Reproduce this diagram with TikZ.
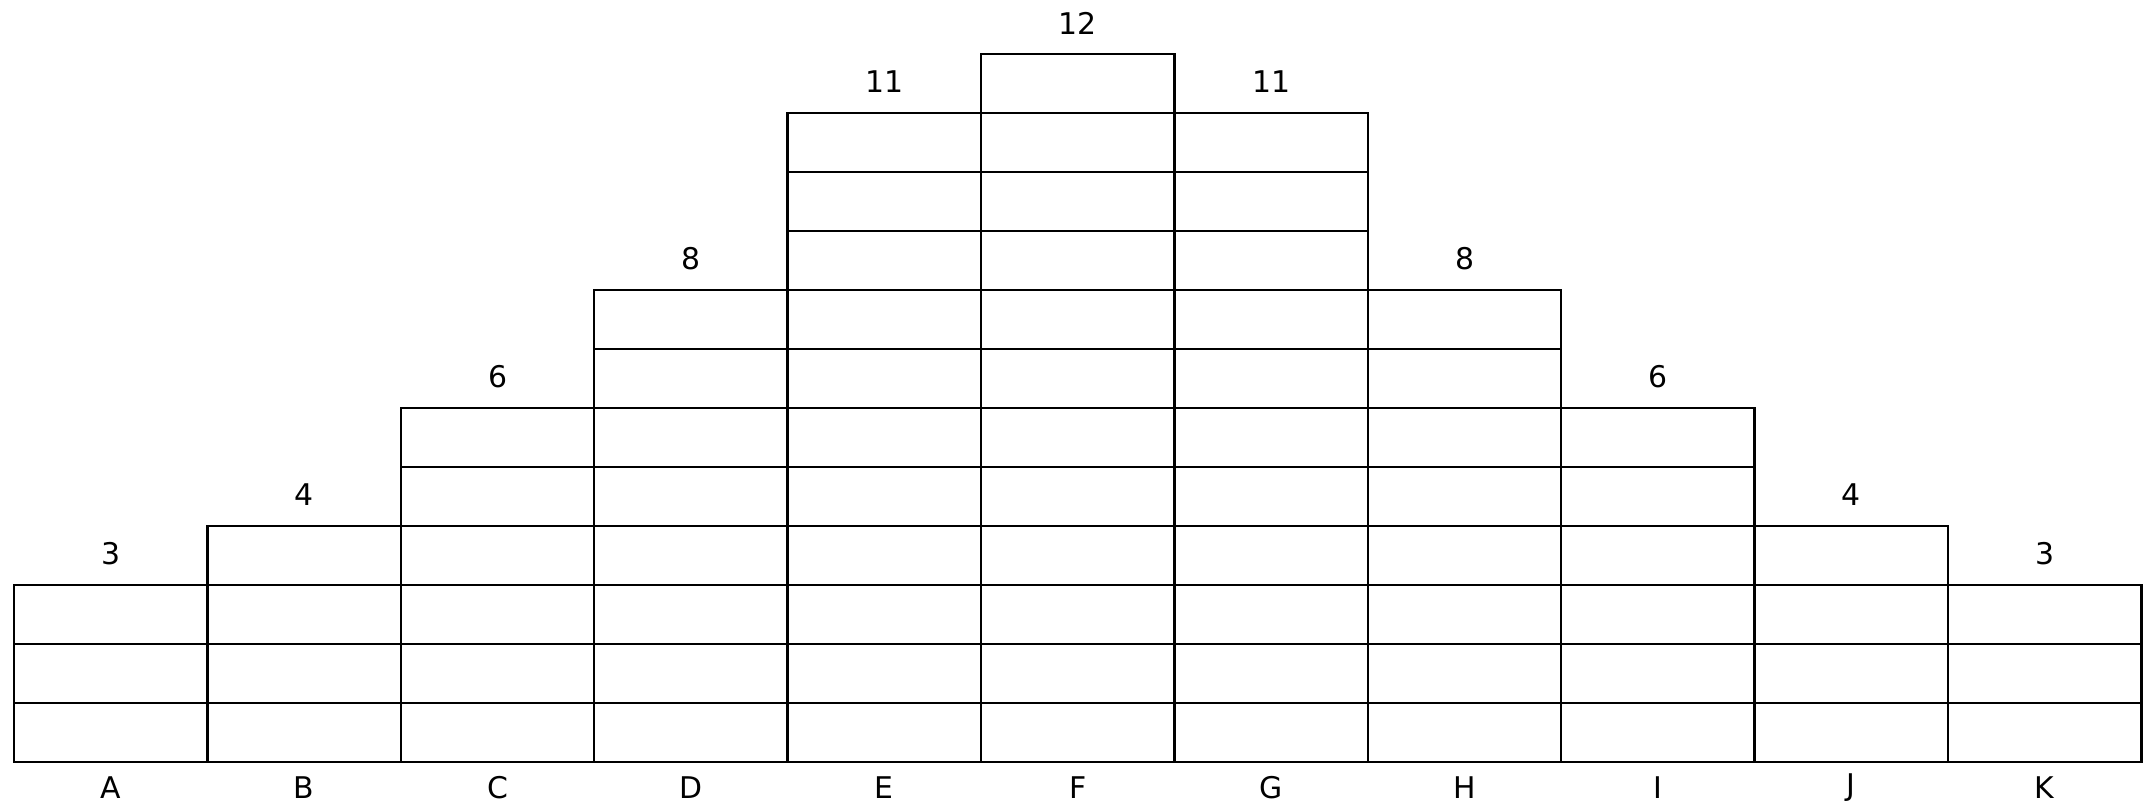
\documentclass[tikz,border=0pt]{standalone}
\usepackage{fontspec}
\setmainfont{DejaVu Sans}
\tikzset{
  cell/.style={shape=rectangle, draw, line width=0.7pt, minimum width=1.934cm, minimum height=0.59cm, inner sep=0pt, outer sep=0pt},
  lbl/.style={anchor=center, inner sep=0pt, font=\fontsize{8.5}{10}\selectfont}
}
\begin{document}
\begin{tikzpicture}
  \fill[white] (0,0) rectangle (21.48,8.08);
  \useasboundingbox (0,0) rectangle (21.48,8.08);
  % Columns of cells, count above, letter below:
  \foreach \h/\l [count=\i] in {3/A,4/B,6/C,8/D,11/E,12/F,11/G,8/H,6/I,4/J,3/K}{
    \foreach \r in {1,...,\h}
      \node[cell] (cell-\l-\r) at ({0.14+(\i-0.5)*1.934}, {0.46+(\r-0.5)*0.59}){};
    \node[lbl] (top-\l) at ([yshift=0.31cm]cell-\l-\h.north){\h};
    \node[lbl] (name-\l) at ([yshift=-0.26cm]cell-\l-1.south){\l};
  }
\end{tikzpicture}
\end{document}
